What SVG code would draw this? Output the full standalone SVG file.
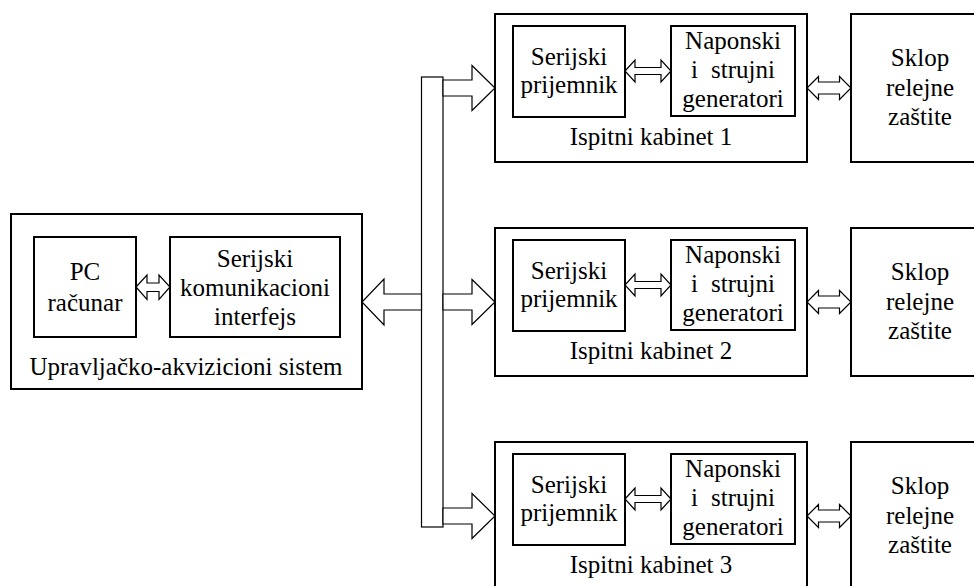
<svg xmlns="http://www.w3.org/2000/svg" width="974" height="586" viewBox="0 0 974 586">
<style>
.box{fill:#fff;stroke:#000;stroke-width:2}
.arr{fill:#fff;stroke:#000;stroke-width:1.2;stroke-linejoin:miter}
.bus{fill:#fff;stroke:#000;stroke-width:1.2}
</style>
<rect width="974" height="586" fill="#fff"/>
<g font-family="Liberation Serif" font-size="25" text-anchor="middle" fill="#000">
<g id="system">
<rect class="box" x="11" y="214" width="351" height="175"/>
<text x="186" y="375">Upravljačko-akvizicioni sistem</text>
</g>
<g id="pc">
<rect class="box" x="34" y="237" width="102" height="100"/>
<text x="85" y="280">PC</text>
<text x="85" y="311">računar</text>
</g>
<g id="serial">
<rect class="box" x="170" y="237" width="170" height="100"/>
<text x="255" y="267">Serijski</text>
<text x="255" y="296">komunikacioni</text>
<text x="255" y="325">interfejs</text>
</g>
<g id="cabinet1">
<rect class="box" x="495" y="14" width="312" height="148"/>
<text x="651" y="145">Ispitni kabinet 1</text>
</g>
<g id="receiver1">
<rect class="box" x="513" y="26" width="112" height="91"/>
<text x="569" y="65">Serijski</text>
<text x="569" y="93">prijemnik</text>
</g>
<g id="generator1">
<rect class="box" x="671" y="26" width="124" height="90"/>
<text x="733" y="49">Naponski</text>
<text x="733" y="78">i<tspan dx="13">strujni</tspan></text>
<text x="733" y="107">generatori</text>
</g>
<g id="relay1">
<rect class="box" x="851" y="14" width="140" height="148"/>
<text x="920" y="66">Sklop</text>
<text x="920" y="95.5">relejne</text>
<text x="920" y="125">zaštite</text>
</g>
<g id="cabinet2">
<rect class="box" x="495" y="228" width="312" height="148"/>
<text x="651" y="359">Ispitni kabinet 2</text>
</g>
<g id="receiver2">
<rect class="box" x="513" y="240" width="112" height="91"/>
<text x="569" y="279">Serijski</text>
<text x="569" y="307">prijemnik</text>
</g>
<g id="generator2">
<rect class="box" x="671" y="240" width="124" height="90"/>
<text x="733" y="263">Naponski</text>
<text x="733" y="292">i<tspan dx="13">strujni</tspan></text>
<text x="733" y="321">generatori</text>
</g>
<g id="relay2">
<rect class="box" x="851" y="228" width="140" height="148"/>
<text x="920" y="280">Sklop</text>
<text x="920" y="309.5">relejne</text>
<text x="920" y="339">zaštite</text>
</g>
<g id="cabinet3">
<rect class="box" x="495" y="442" width="312" height="148"/>
<text x="651" y="573">Ispitni kabinet 3</text>
</g>
<g id="receiver3">
<rect class="box" x="513" y="454" width="112" height="91"/>
<text x="569" y="493">Serijski</text>
<text x="569" y="521">prijemnik</text>
</g>
<g id="generator3">
<rect class="box" x="671" y="454" width="124" height="90"/>
<text x="733" y="477">Naponski</text>
<text x="733" y="506">i<tspan dx="13">strujni</tspan></text>
<text x="733" y="535">generatori</text>
</g>
<g id="relay3">
<rect class="box" x="851" y="442" width="140" height="148"/>
<text x="920" y="494">Sklop</text>
<text x="920" y="523.5">relejne</text>
<text x="920" y="553">zaštite</text>
</g>
</g>
<g id="connectors">
<rect id="bus" class="bus" x="421.5" y="77" width="21.5" height="450"/>
<polygon class="arr" points="136,287 147,275 147,283 159,283 159,275 170,287 159,299.5 159,291.5 147,291.5 147,299.5"/>
<polygon class="arr" points="421.5,294 384,294 384,279 362,302 384,325 384,310 421.5,310"/>
<polygon class="arr" points="443,80 472,80 472,65.5 495,88 472,110.5 472,96 443,96"/>
<polygon class="arr" points="443,294 472,294 472,279.5 495,302 472,324.5 472,310 443,310"/>
<polygon class="arr" points="443,508 472,508 472,493.5 495,516 472,538.5 472,524 443,524"/>
<polygon class="arr" points="625,71 635,60 635,67.5 661,67.5 661,60 671,71 661,82 661,74.5 635,74.5 635,82"/>
<polygon class="arr" points="625,285 635,274 635,281.5 661,281.5 661,274 671,285 661,296 661,288.5 635,288.5 635,296"/>
<polygon class="arr" points="625,499 635,488 635,495.5 661,495.5 661,488 671,499 661,510 661,502.5 635,502.5 635,510"/>
<polygon class="arr" points="807,88 818.5,76.5 818.5,82 839.5,82 839.5,76.5 851,88 839.5,99.5 839.5,94 818.5,94 818.5,99.5"/>
<polygon class="arr" points="807,302 818.5,290.5 818.5,296 839.5,296 839.5,290.5 851,302 839.5,313.5 839.5,308 818.5,308 818.5,313.5"/>
<polygon class="arr" points="807,516 818.5,504.5 818.5,510 839.5,510 839.5,504.5 851,516 839.5,527.5 839.5,522 818.5,522 818.5,527.5"/>
</g>
</svg>
